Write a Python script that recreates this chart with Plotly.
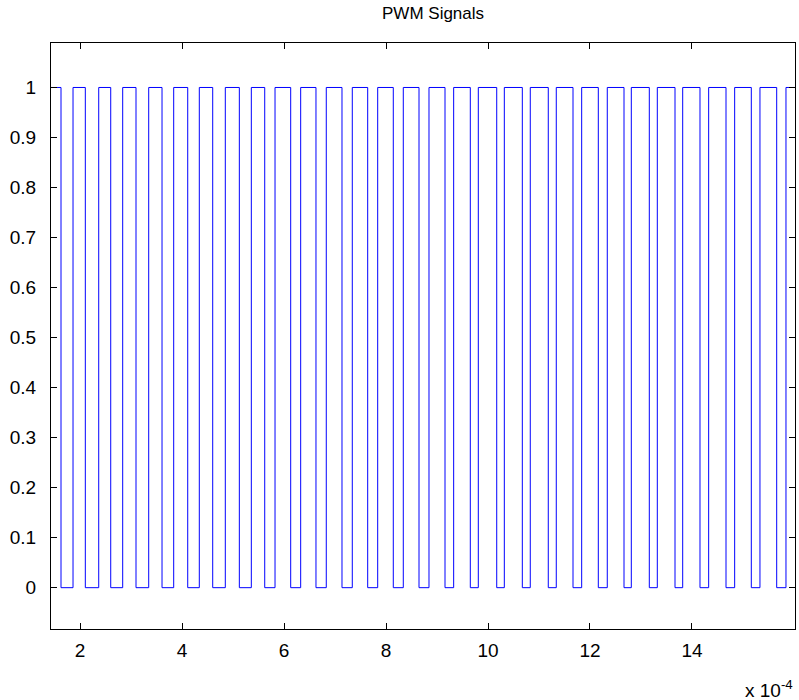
import plotly.graph_objects as go

# PWM edge times in seconds (signal is high at the start of the window)
t_start = 1.431e-4
t_end = 1.602e-3
fall_times = [1.627e-4, 2.104e-4, 2.602e-4, 3.098e-4, 3.608e-4, 4.112e-4, 4.602e-4,
              5.124e-4, 5.622e-4, 6.131e-4, 6.627e-4, 7.137e-4, 7.641e-4, 8.143e-4,
              8.647e-4, 9.157e-4, 9.653e-4, 10.171e-4, 10.673e-4, 11.182e-4, 11.667e-4,
              12.163e-4, 12.667e-4, 13.163e-4, 13.667e-4, 14.157e-4, 14.667e-4,
              15.163e-4, 15.661e-4]
rise_times = [1.863e-4, 2.367e-4, 2.837e-4, 3.347e-4, 3.837e-4, 4.339e-4, 4.849e-4,
              5.359e-4, 5.824e-4, 6.327e-4, 6.829e-4, 7.339e-4, 7.837e-4, 8.339e-4,
              8.843e-4, 9.327e-4, 9.810e-4, 10.320e-4, 10.829e-4, 11.339e-4, 11.837e-4,
              12.339e-4, 12.810e-4, 13.320e-4, 13.818e-4, 14.327e-4, 14.837e-4,
              15.333e-4, 15.843e-4]

x_tick_vals = [2e-4, 4e-4, 6e-4, 8e-4, 10e-4, 12e-4, 14e-4]
x_tick_text = ["2", "4", "6", "8", "10", "12", "14"]
y_tick_vals = [0, 0.1, 0.2, 0.3, 0.4, 0.5, 0.6, 0.7, 0.8, 0.9, 1]
y_tick_text = ["0", "0.1", "0.2", "0.3", "0.4", "0.5", "0.6", "0.7", "0.8", "0.9", "1"]

# Step-wise signal: level changes at each edge
xs = [t_start]
ys = [1]
for f, r in zip(fall_times, rise_times):
    xs += [f, r]
    ys += [0, 1]
xs.append(t_end)
ys.append(1)

fig = go.Figure()
fig.add_trace(go.Scatter(x=xs, y=ys, mode="lines", line=dict(color="#0000ff", width=1, shape="hv"),
                         showlegend=False, hoverinfo="skip"))

tick_font = dict(family="Liberation Sans, Arial", size=19, color="black")
axis_common = dict(showline=True, linecolor="black", linewidth=1, mirror="ticks",
                   ticks="inside", ticklen=6, tickcolor="black", showgrid=False,
                   zeroline=False, tickfont=tick_font)

fig.update_xaxes(range=[t_start, t_end], tickvals=x_tick_vals, ticktext=x_tick_text,
                 ticklabelstandoff=4, **axis_common)
fig.update_yaxes(range=[-0.0826, 1.0889], tickvals=y_tick_vals, ticktext=y_tick_text,
                 ticklabelstandoff=10, **axis_common)

fig.update_layout(
    width=799, height=700,
    margin=dict(l=51, r=4, t=43, b=71),
    plot_bgcolor="white", paper_bgcolor="white",
    title=dict(text="PWM Signals", x=0.542, xanchor="center", y=0.981, yanchor="middle",
               font=dict(family="Liberation Sans, Arial", size=17, color="black")),
    annotations=[dict(text="x 10<sup>-4</sup>", xref="paper", yref="paper", x=1.0, y=-0.102,
                      xanchor="right", yanchor="middle", showarrow=False,
                      font=dict(family="Liberation Sans, Arial", size=19, color="black"))],
)

fig.write_html("out.html")
